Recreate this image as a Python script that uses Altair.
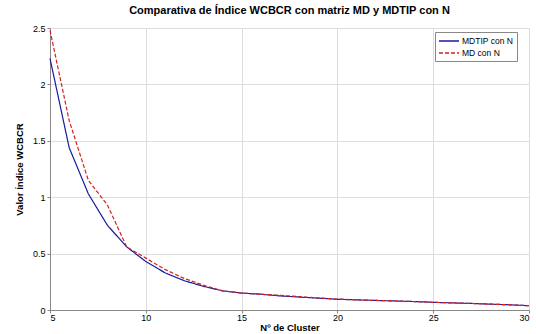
import altair as alt
import pandas as pd

clusters = list(range(5, 31))
mdtip = [2.23, 1.44, 1.03, 0.75, 0.56, 0.43, 0.33, 0.26, 0.21, 0.17, 0.15, 0.14, 0.125, 0.115, 0.105, 0.095,
         0.09, 0.085, 0.08, 0.075, 0.068, 0.063, 0.058, 0.052, 0.046, 0.038]
md = [2.48, 1.68, 1.15, 0.93, 0.56, 0.46, 0.36, 0.28, 0.22, 0.17, 0.15, 0.14, 0.13, 0.118, 0.107, 0.097,
      0.09, 0.085, 0.08, 0.075, 0.068, 0.063, 0.058, 0.052, 0.046, 0.038]
series_names = ["MDTIP con N", "MD con N"]

rows = []
for name, vals in zip(series_names, [mdtip, md]):
    for c, v in zip(clusters, vals):
        rows.append({"cluster": c, "valor": v, "serie": name})
df = pd.DataFrame(rows)

font = "Liberation Sans"

def make_legend():
    return alt.Legend(title=None, orient="none", legendX=385, legendY=4,
                      symbolType="M-1,0H3", symbolSize=100, symbolStrokeWidth=1.5,
                      labelFontSize=8.5, labelFont=font, fillColor="white",
                      strokeColor="#888888", padding=3, rowPadding=1, labelOffset=12,
                      labelColor="#000000")

chart = alt.Chart(df).mark_line(strokeWidth=1.2).encode(
    x=alt.X("cluster:Q", scale=alt.Scale(domain=[5, 30], nice=False),
            axis=alt.Axis(values=[5, 10, 15, 20, 25, 30], title="Nº de Cluster", titleFontWeight="bold",
                          titleFontSize=9.5, labelFontSize=9, titlePadding=0, tickSize=3,
                          labelPadding=0)),
    y=alt.Y("valor:Q", scale=alt.Scale(domain=[0, 2.5], nice=False),
            axis=alt.Axis(values=[0, 0.5, 1, 1.5, 2, 2.5], title="Valor Índice WCBCR", titleFontWeight="bold",
                          titleFontSize=9.5, labelFontSize=9, titlePadding=8, tickSize=3, format="~g")),
    color=alt.Color("serie:N", sort=series_names,
                    scale=alt.Scale(domain=series_names, range=["#1a1aa0", "#d42020"]),
                    legend=make_legend()),
    strokeDash=alt.StrokeDash("serie:N", sort=series_names,
                              scale=alt.Scale(domain=series_names, range=[[1, 0], [4, 2]]),
                              legend=make_legend()),
).properties(
    width=479, height=282,
    title=alt.TitleParams("Comparativa de Índice WCBCR con matriz MD y MDTIP con N",
                          fontSize=11, fontWeight="bold", font=font, offset=8, anchor="middle"),
    autosize=alt.AutoSizeParams(type="none"),
    padding={"left": 50, "top": 28, "right": 7, "bottom": 24},
).configure_axis(
    labelFont=font, titleFont=font, grid=True, gridDash=[1, 2], gridColor="#888888", gridWidth=0.8,
    domainColor="#000000", tickColor="#000000", labelColor="#000000", titleColor="#000000",
).configure_view(stroke="#000000", strokeWidth=1).configure(background="white")

chart.save("out.html", embed_options={"renderer": "svg", "actions": False})
